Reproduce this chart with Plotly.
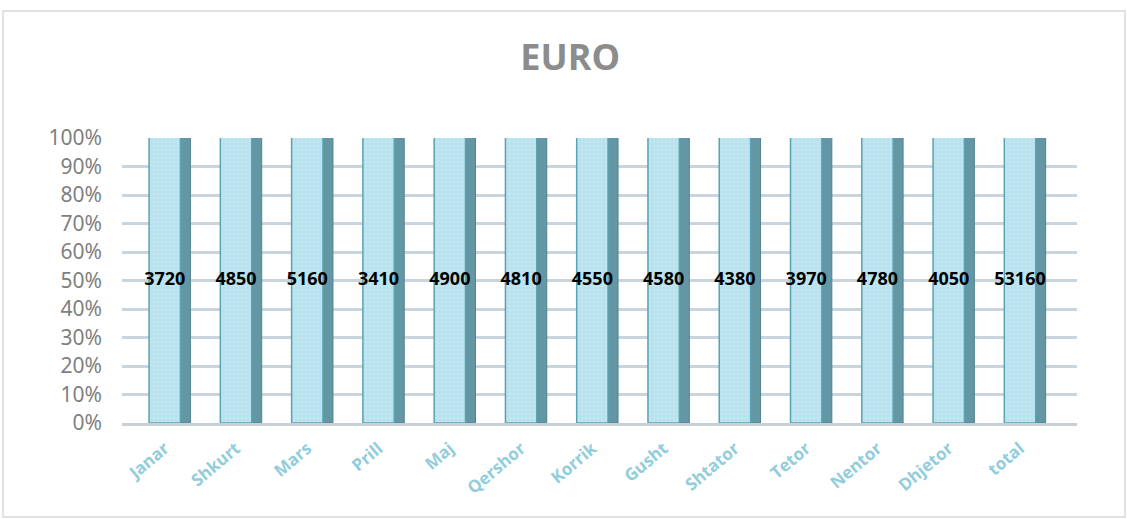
import plotly.graph_objects as go

months = ["Janar", "Shkurt", "Mars", "Prill", "Maj", "Qershor", "Korrik",
          "Gusht", "Shtator", "Tetor", "Nentor", "Dhjetor", "total"]
euro = [3720, 4850, 5160, 3410, 4900, 4810, 4550, 4580, 4380, 3970, 4780, 4050, 53160]
y_ticks = list(range(0, 101, 10))
y_tick_text = [f"{v}%" for v in y_ticks]

# each column is a 100% stack of one series, so the label sits at half height
label_y = [100 * v / v / 2 for v in euro]

fig = go.Figure()

# dark side face of each 3D column
fig.add_trace(go.Bar(
    x=months, y=euro,
    width=0.14, offset=0.22,
    marker=dict(color="#6497a4", line=dict(color="#50838f", width=1)),
    hoverinfo="skip", cliponaxis=False, showlegend=False,
))

# front face, normalised to 100%
fig.add_trace(go.Bar(
    x=months, y=euro,
    width=0.44, offset=-0.22,
    marker=dict(
        color="#bfe6f0",
        line=dict(color="#5aa3b3", width=1.5),
        pattern=dict(shape=".", fgcolor="#a6d8e4", size=4, solidity=0.3),
    ),
    cliponaxis=False, showlegend=False,
))

# value labels
fig.add_trace(go.Scatter(
    x=months, y=label_y, mode="text",
    text=[str(v) for v in euro],
    textposition="middle center",
    textfont=dict(family="Open Sans, Arial, sans-serif", size=18, color="#000000", weight="bold"),
    hoverinfo="skip", showlegend=False, cliponaxis=False,
))

fig.update_layout(
    width=1127, height=519,
    barmode="overlay",
    barnorm="percent",
    paper_bgcolor="#ffffff", plot_bgcolor="#ffffff",
    margin=dict(l=122, r=50, t=138, b=96, autoexpand=False),
    title=dict(
        text="EURO", x=0.506, xanchor="center", y=0.89, yanchor="middle",
        font=dict(family="Open Sans, Arial, sans-serif", size=36, color="#8c8c8c", weight="bold"),
    ),
    xaxis=dict(
        range=[-0.6, 12.8], automargin=False,
        tickangle=-40,
        tickfont=dict(family="Open Sans, Arial, sans-serif", size=17, color="#92cddc", weight="bold"),
        showgrid=False, showline=True, linecolor="#c8cfd6", linewidth=3,
        ticks="", ticklabelstandoff=6,
    ),
    yaxis=dict(
        range=[0, 100], automargin=False,
        tickvals=y_ticks, ticktext=y_tick_text,
        tickfont=dict(family="Noto Sans, Arial, sans-serif", size=21, color="#7f7f7f"),
        showgrid=True, gridcolor="#c9d4dc", gridwidth=2.5,
        zeroline=False, showline=False, ticks="", ticklabelstandoff=19,
    ),
    shapes=[dict(
        type="rect", xref="paper", yref="paper",
        x0=-0.1246, x1=1.0503, y0=-0.33, y1=1.4456,
        line=dict(color="#d9d9d9", width=1.5), fillcolor="rgba(0,0,0,0)", layer="below",
    )],
)

fig.write_html("out.html", config={"displayModeBar": False},
               post_script="document.body.style.margin='0';")
